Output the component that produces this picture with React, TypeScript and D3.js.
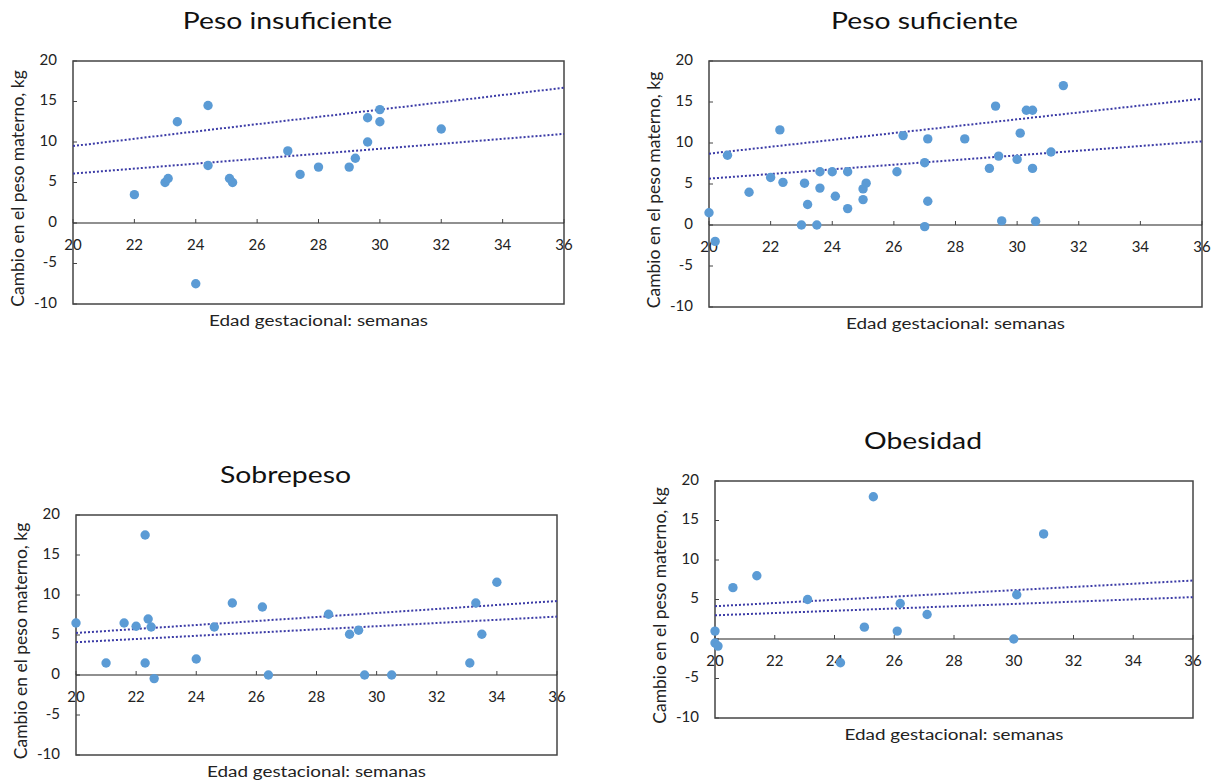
import React, { useEffect, useRef } from 'react';
import * as d3 from 'd3';

// semanas de gestación vs cambio en el peso materno (kg)
const insuficiente: [number, number][] = [
  [22.0, 3.5], [23.0, 5.0], [23.1, 5.5], [23.4, 12.5], [24.4, 14.5], [24.4, 7.1],
  [24.0, -7.5], [25.1, 5.5], [25.2, 5.0], [27.0, 8.9], [27.4, 6.0], [28.0, 6.9],
  [29.0, 6.9], [29.2, 8.0], [29.6, 13.0], [29.6, 10.0], [30.0, 14.0], [30.0, 12.5],
  [32.0, 11.6],
];
const suficiente: [number, number][] = [
  [20.0, 1.5], [20.2, -2.0], [20.6, 8.5], [21.3, 4.0], [22.0, 5.8], [22.3, 11.6],
  [22.4, 5.2], [23.0, 0.0], [23.1, 5.1], [23.2, 2.5], [23.5, 0.0], [23.6, 6.5],
  [23.6, 4.5], [24.0, 6.5], [24.1, 3.5], [24.5, 2.0], [24.5, 6.5], [25.0, 4.4],
  [25.1, 5.1], [25.0, 3.1], [26.1, 6.5], [26.3, 10.9], [27.0, 7.6], [27.0, -0.2],
  [27.1, 10.5], [27.1, 2.9], [28.3, 10.5], [29.1, 6.9], [29.3, 14.5], [29.4, 8.4],
  [29.5, 0.5], [30.0, 8.0], [30.1, 11.2], [30.3, 14.0], [30.5, 14.0], [30.5, 6.9],
  [30.6, 0.45], [31.1, 8.9], [31.5, 17.0],
];
const sobrepeso: [number, number][] = [
  [20.0, 6.5], [21.0, 1.5], [21.6, 6.5], [22.0, 6.1], [22.3, 17.5], [22.3, 1.5],
  [22.4, 7.0], [22.5, 6.0], [22.6, -0.45], [24.0, 2.0], [24.6, 6.0], [25.2, 9.0],
  [26.2, 8.5], [26.4, 0.0], [28.4, 7.6], [29.1, 5.1], [29.4, 5.6], [29.6, 0.0],
  [30.5, 0.0], [33.1, 1.5], [33.3, 9.0], [33.5, 5.1], [34.0, 11.6],
];
const obesidad: [number, number][] = [
  [20.0, 1.0], [20.0, -0.5], [20.1, -0.9], [20.6, 6.5], [21.4, 8.0], [23.1, 5.0],
  [24.2, -3.0], [25.0, 1.5], [25.3, 18.0], [26.1, 1.0], [26.2, 4.5], [27.1, 3.1],
  [30.0, 0.0], [30.1, 5.6], [31.0, 13.3],
];

// líneas punteadas: valor en la semana 20 y en la semana 36
const lineasInsuficiente = [[9.5, 16.7], [6.1, 11.0]];
const lineasSuficiente = [[8.7, 15.4], [5.65, 10.2]];
const lineasSobrepeso = [[5.25, 9.25], [4.1, 7.3]];
const lineasObesidad = [[4.15, 7.4], [3.0, 5.3]];

const titulos = ['Peso insuficiente', 'Peso suficiente', 'Sobrepeso', 'Obesidad'];
const xTicks = [20, 22, 24, 26, 28, 30, 32, 34, 36];
const yTicks = [-10, -5, 0, 5, 10, 15, 20];

// marco de cada gráfico en la página
const marcos = [
  { left: 73, top: 61, right: 564, bottom: 304 },
  { left: 709, top: 61, right: 1202, bottom: 307 },
  { left: 76, top: 515, right: 557, bottom: 755 },
  { left: 715, top: 481, right: 1193, bottom: 718 },
];

const FONT = 'Lato, "Open Sans", sans-serif';
const ESTIRAR = 1.18; // el texto del original está algo ensanchado

function App() {
  const ref = useRef<SVGSVGElement>(null);

  useEffect(() => {
    const svg = d3.select(ref.current);
    svg.selectAll('*').remove();

    const datos = [insuficiente, suficiente, sobrepeso, obesidad];
    const lineas = [lineasInsuficiente, lineasSuficiente, lineasSobrepeso, lineasObesidad];

    marcos.forEach((m, i) => {
      const x = d3.scaleLinear().domain([20, 36]).range([m.left, m.right]);
      const y = d3.scaleLinear().domain([-10, 20]).range([m.bottom, m.top]);
      const g = svg.append('g');
      const cx = (m.left + m.right) / 2;

      // titulo
      g.append('text')
        .attr('transform', `translate(${cx - 31}, ${m.top - 38}) scale(${ESTIRAR}, 1)`)
        .attr('text-anchor', 'middle')
        .attr('dominant-baseline', 'middle')
        .attr('font-size', 24)
        .attr('fill', '#111')
        .text(titulos[i]);

      // marco
      g.append('rect')
        .attr('x', m.left)
        .attr('y', m.top)
        .attr('width', m.right - m.left)
        .attr('height', m.bottom - m.top)
        .attr('fill', 'white')
        .attr('stroke', '#444')
        .attr('stroke-width', 1.5);

      // eje y
      yTicks.forEach((t) => {
        g.append('line')
          .attr('x1', m.left)
          .attr('x2', m.left + 4)
          .attr('y1', y(t))
          .attr('y2', y(t))
          .attr('stroke', '#444');
        g.append('text')
          .attr('x', m.left - 16)
          .attr('y', y(t))
          .attr('text-anchor', 'end')
          .attr('dominant-baseline', 'middle')
          .attr('font-size', 15)
          .attr('fill', '#222')
          .text(t);
      });

      // eje x sobre el cero
      g.append('line')
        .attr('x1', m.left)
        .attr('x2', m.right)
        .attr('y1', y(0))
        .attr('y2', y(0))
        .attr('stroke', '#222')
        .attr('stroke-width', 1.2);
      xTicks.forEach((t) => {
        g.append('line')
          .attr('x1', x(t))
          .attr('x2', x(t))
          .attr('y1', y(0))
          .attr('y2', y(0) - 4)
          .attr('stroke', '#444');
        g.append('text')
          .attr('x', x(t))
          .attr('y', y(0) + 23)
          .attr('text-anchor', 'middle')
          .attr('dominant-baseline', 'middle')
          .attr('font-size', 15)
          .attr('fill', '#222')
          .text(t);
      });

      // lineas punteadas
      lineas[i].forEach((l) => {
        g.append('line')
          .attr('x1', x(20))
          .attr('y1', y(l[0]))
          .attr('x2', x(36))
          .attr('y2', y(l[1]))
          .attr('stroke', '#3b3ba6')
          .attr('stroke-width', 2)
          .attr('stroke-dasharray', '2 2');
      });

      // puntos
      g.selectAll('circle.p')
        .data(datos[i])
        .enter()
        .append('circle')
        .attr('class', 'p')
        .attr('cx', (d) => x(d[0]))
        .attr('cy', (d) => y(d[1]))
        .attr('r', 4.7)
        .attr('fill', '#5b9bd5');

      // etiquetas de ejes
      g.append('text')
        .attr('transform', `translate(${cx}, ${m.bottom + 18}) scale(${ESTIRAR}, 1)`)
        .attr('text-anchor', 'middle')
        .attr('dominant-baseline', 'middle')
        .attr('font-size', 16)
        .attr('fill', '#222')
        .text('Edad gestacional: semanas');

      g.append('text')
        .attr('transform', `translate(${m.left - 53}, ${(m.top + m.bottom) / 2 + 6}) rotate(-90)`)
        .attr('text-anchor', 'middle')
        .attr('dominant-baseline', 'middle')
        .attr('font-size', 17.5)
        .attr('fill', '#222')
        .text('Cambio en el peso materno, kg');
    });
  }, []);

  return (
    <svg
      ref={ref}
      width={1214}
      height={781}
      style={{ position: 'absolute', left: 0, top: 0, background: 'white', fontFamily: FONT }}
    />
  );
}

export default App;
